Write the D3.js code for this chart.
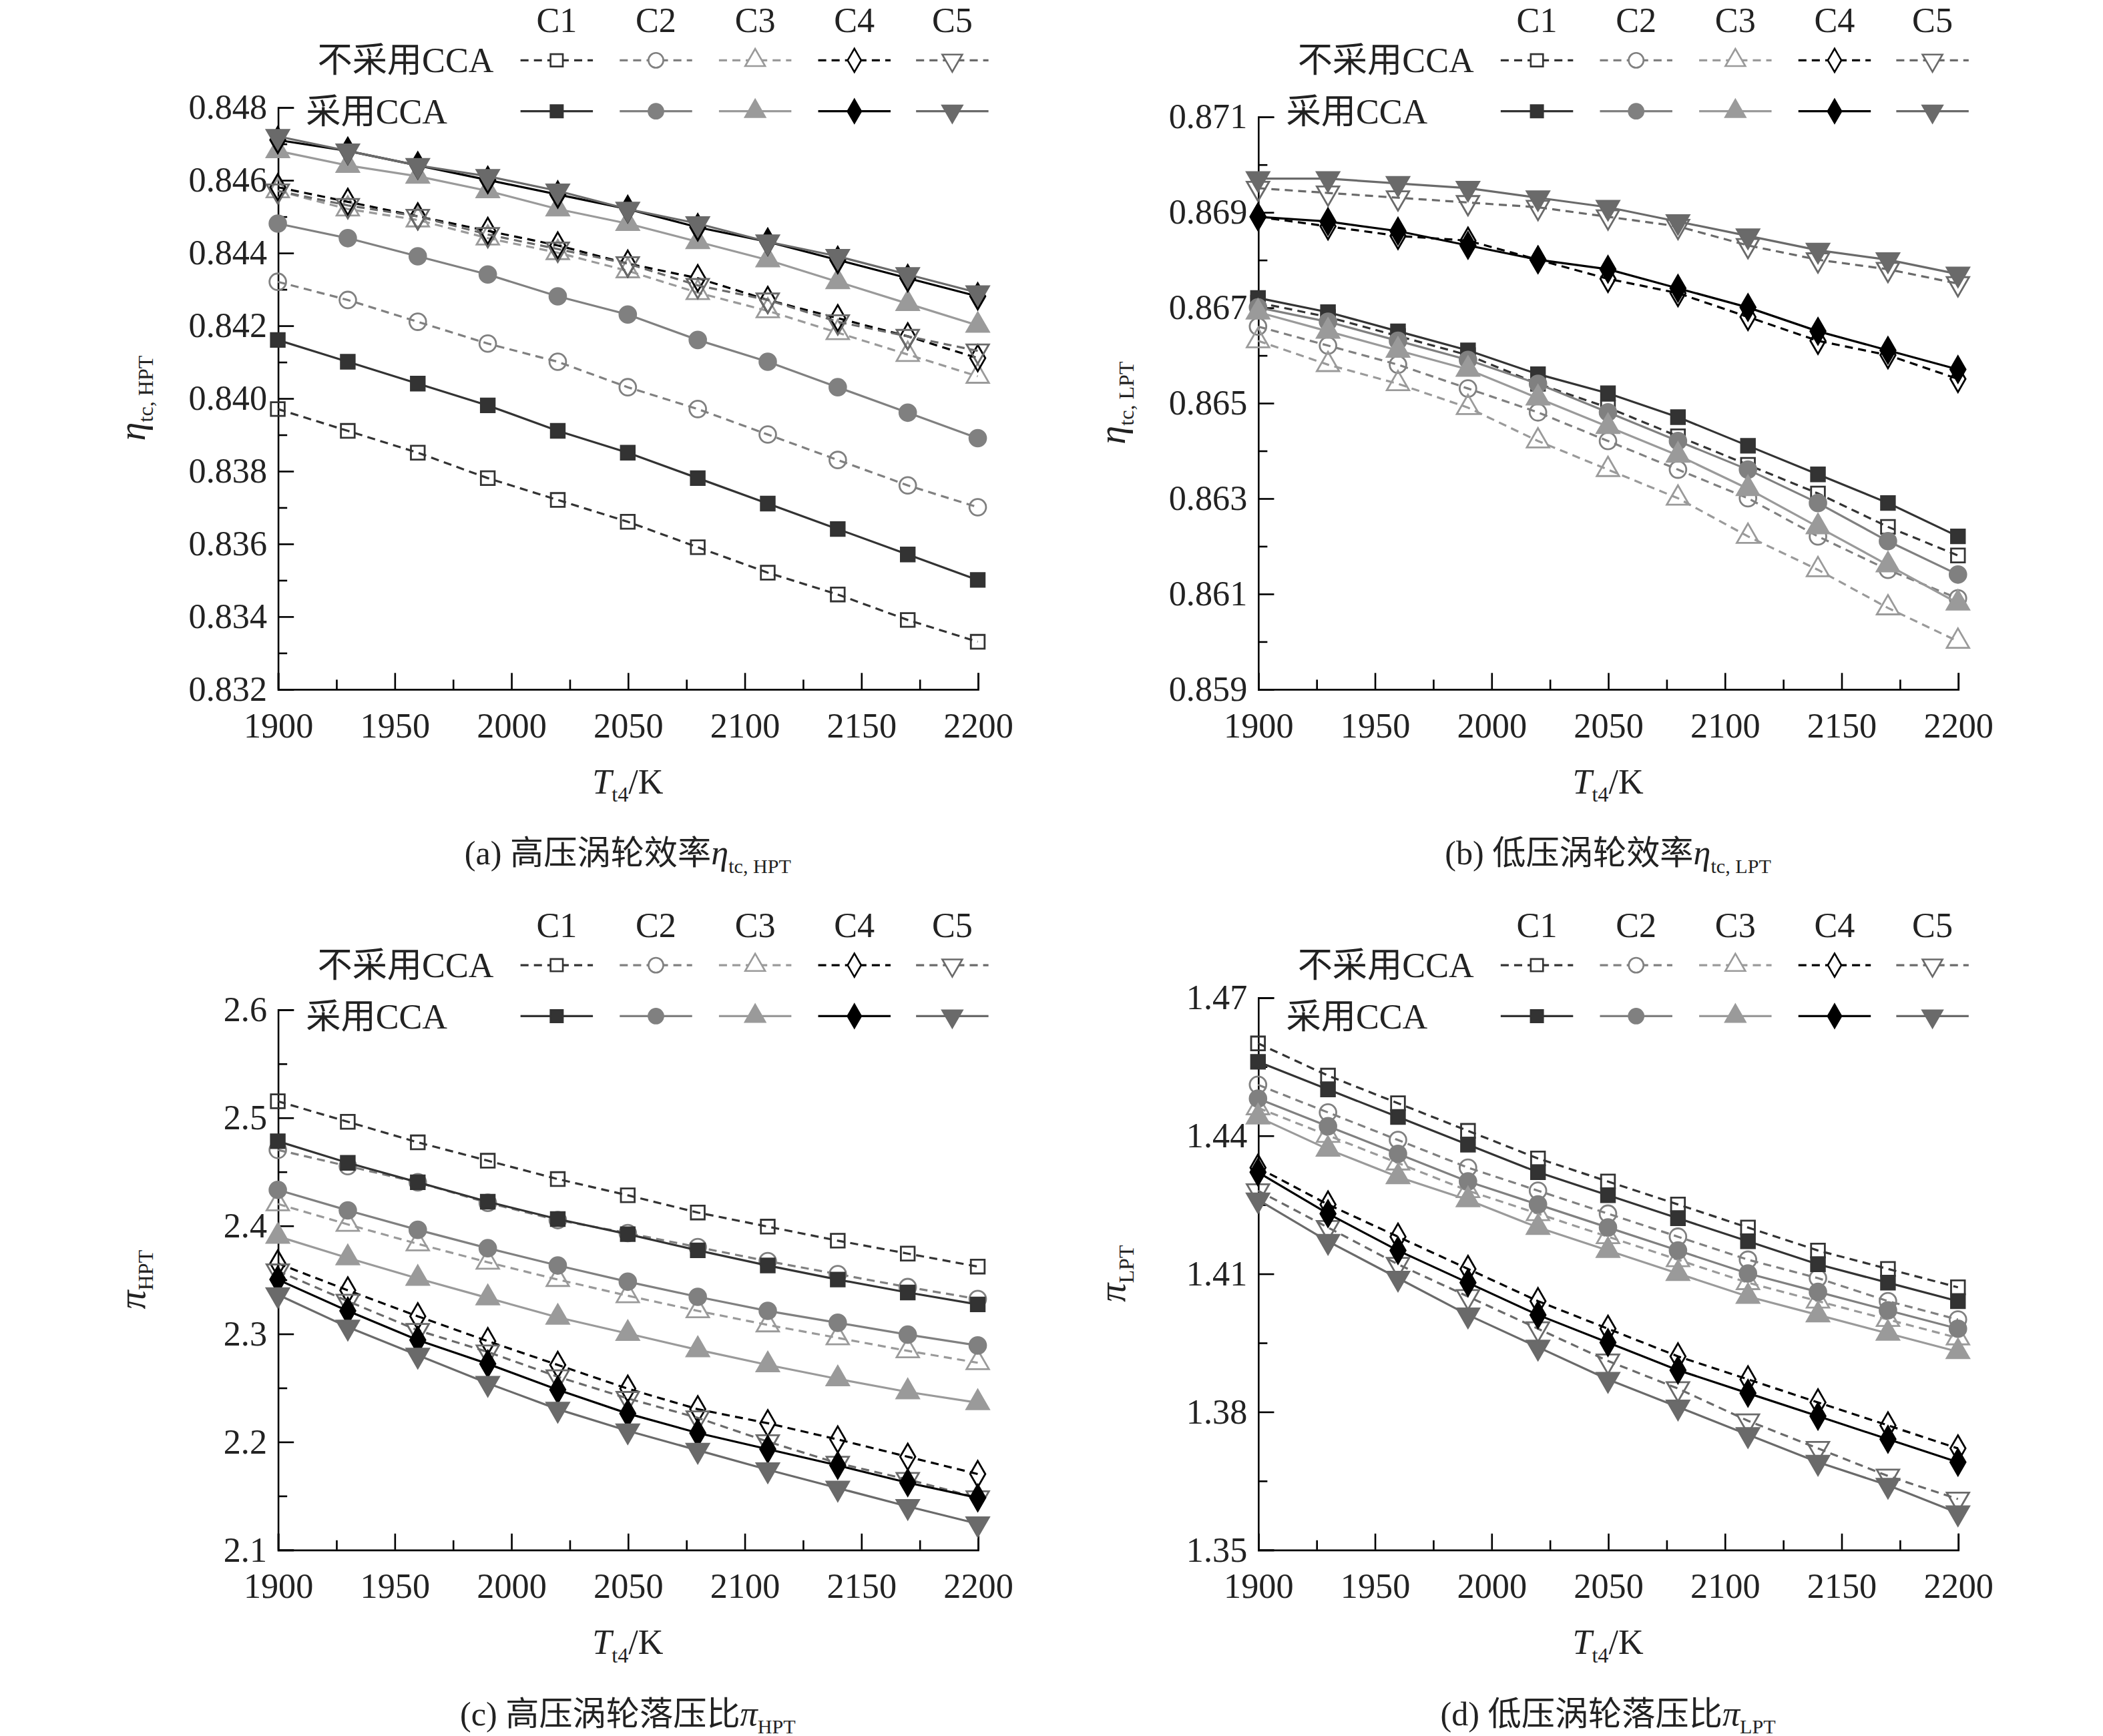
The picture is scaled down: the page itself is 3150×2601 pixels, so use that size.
<!DOCTYPE html>
<html><head><meta charset="utf-8">
<script src="https://cdn.jsdelivr.net/npm/d3@7"></script>
<style>body{margin:0;background:#fff}</style>
</head><body>
<svg id="chart" width="3150" height="2601" viewBox="0 0 1568 1295"></svg>
<script>
const temps = [1900, 1930, 1960, 1990, 2020, 2050, 2080, 2110, 2140, 2170, 2200];
const cases = ["C1", "C2", "C3", "C4", "C5"];
const caseColors = ["#333", "#808080", "#9a9a9a", "#000", "#6a6a6a"];
const caseShapes = [d3.symbolSquare, d3.symbolCircle, d3.symbolTriangle, d3.symbolDiamond, "down"];

// panel (a) eta_tc,HPT
const etaHptNo = [
  [0.8397,0.8391,0.8385,0.8378,0.8372,0.8366,0.8359,0.8352,0.8346,0.8339,0.8333],
  [0.8432,0.8427,0.8421,0.8415,0.8410,0.8403,0.8397,0.8390,0.8383,0.8376,0.8370],
  [0.8457,0.8452,0.8449,0.8444,0.8440,0.8435,0.8429,0.8424,0.8418,0.8412,0.8406],
  [0.8458,0.8454,0.8450,0.8446,0.8442,0.8437,0.8433,0.8427,0.8422,0.8417,0.8411],
  [0.8457,0.8453,0.8450,0.8445,0.8441,0.8437,0.8431,0.8427,0.8421,0.8417,0.8413]];
const etaHptCca = [
  [0.8416,0.8410,0.8404,0.8398,0.8391,0.8385,0.8378,0.8371,0.8364,0.8357,0.8350],
  [0.8448,0.8444,0.8439,0.8434,0.8428,0.8423,0.8416,0.8410,0.8403,0.8396,0.8389],
  [0.8468,0.8464,0.8461,0.8457,0.8452,0.8448,0.8443,0.8438,0.8432,0.8426,0.8420],
  [0.8471,0.8468,0.8464,0.8460,0.8456,0.8452,0.8447,0.8443,0.8438,0.8433,0.8428],
  [0.8472,0.8468,0.8464,0.8461,0.8457,0.8452,0.8448,0.8443,0.8439,0.8434,0.8429]];
// panel (b) eta_tc,LPT
const etaLptNo = [
  [0.8671,0.8668,0.8664,0.8660,0.8654,0.8649,0.8643,0.8637,0.8631,0.8624,0.8618],
  [0.8666,0.8662,0.8658,0.8653,0.8648,0.8642,0.8636,0.8630,0.8622,0.8615,0.8609],
  [0.8663,0.8658,0.8654,0.8649,0.8642,0.8636,0.8630,0.8622,0.8615,0.8607,0.8600],
  [0.8689,0.8687,0.8685,0.8684,0.8680,0.8676,0.8673,0.8668,0.8663,0.8660,0.8655],
  [0.8695,0.8694,0.8693,0.8692,0.8691,0.8689,0.8687,0.8683,0.8680,0.8678,0.8675]];
const etaLptCca = [
  [0.8672,0.8669,0.8665,0.8661,0.8656,0.8652,0.8647,0.8641,0.8635,0.8629,0.8622],
  [0.8670,0.8667,0.8663,0.8659,0.8654,0.8648,0.8642,0.8636,0.8629,0.8621,0.8614],
  [0.8669,0.8665,0.8661,0.8657,0.8651,0.8645,0.8639,0.8632,0.8624,0.8616,0.8608],
  [0.8689,0.8688,0.8686,0.8683,0.8680,0.8678,0.8674,0.8670,0.8665,0.8661,0.8657],
  [0.8697,0.8697,0.8696,0.8695,0.8693,0.8691,0.8688,0.8685,0.8682,0.8680,0.8677]];
// panel (c) pi_HPT
const piHptNo = [
  [2.515,2.496,2.477,2.460,2.443,2.428,2.412,2.399,2.386,2.374,2.362],
  [2.470,2.455,2.440,2.421,2.405,2.393,2.380,2.367,2.355,2.343,2.332],
  [2.420,2.401,2.383,2.366,2.350,2.335,2.321,2.308,2.296,2.284,2.273],
  [2.365,2.340,2.316,2.293,2.271,2.249,2.230,2.217,2.202,2.186,2.170],
  [2.358,2.330,2.303,2.283,2.260,2.240,2.222,2.200,2.180,2.165,2.148]];
const piHptCca = [
  [2.478,2.458,2.440,2.422,2.406,2.392,2.377,2.363,2.350,2.338,2.327],
  [2.433,2.414,2.396,2.379,2.363,2.348,2.334,2.321,2.310,2.299,2.289],
  [2.390,2.370,2.351,2.333,2.315,2.300,2.285,2.271,2.258,2.246,2.236],
  [2.350,2.321,2.294,2.272,2.248,2.226,2.208,2.193,2.178,2.162,2.148],
  [2.336,2.306,2.280,2.254,2.230,2.210,2.192,2.174,2.157,2.140,2.124]];
// panel (d) pi_LPT
const piLptNo = [
  [1.460,1.453,1.447,1.441,1.435,1.430,1.425,1.420,1.415,1.411,1.407],
  [1.451,1.445,1.439,1.433,1.428,1.423,1.418,1.413,1.409,1.404,1.400],
  [1.446,1.440,1.434,1.428,1.423,1.418,1.413,1.408,1.404,1.400,1.396],
  [1.433,1.425,1.418,1.411,1.404,1.398,1.392,1.387,1.382,1.377,1.372],
  [1.428,1.420,1.412,1.405,1.398,1.391,1.385,1.378,1.372,1.366,1.361]];
const piLptCca = [
  [1.456,1.450,1.444,1.438,1.432,1.427,1.422,1.417,1.412,1.408,1.404],
  [1.448,1.442,1.436,1.430,1.425,1.420,1.415,1.410,1.406,1.402,1.398],
  [1.444,1.437,1.431,1.426,1.420,1.415,1.410,1.405,1.401,1.397,1.393],
  [1.432,1.423,1.415,1.408,1.401,1.395,1.389,1.384,1.379,1.374,1.369],
  [1.426,1.417,1.409,1.401,1.394,1.387,1.381,1.375,1.369,1.364,1.358]];

const panels = [
  {ox: 0, oy: 0, top: 80, bottom: 514, dom: [0.832, 0.848], step: 0.002, fmt: ".3f", no: etaHptNo, cca: etaHptCca,
   sym: "η", sub: "tc, HPT", cap: "(a) 高压涡轮效率", capSym: "η", capSub: "tc, HPT"},
  {ox: 731, oy: 0, top: 87, bottom: 514, dom: [0.859, 0.871], step: 0.002, fmt: ".3f", no: etaLptNo, cca: etaLptCca,
   sym: "η", sub: "tc, LPT", cap: "(b) 低压涡轮效率", capSym: "η", capSub: "tc, LPT"},
  {ox: 0, oy: 675, top: 753 - 675, bottom: 1156 - 675, dom: [2.1, 2.6], step: 0.1, fmt: ".1f", no: piHptNo, cca: piHptCca,
   sym: "π", sub: "HPT", cap: "(c) 高压涡轮落压比", capSym: "π", capSub: "HPT"},
  {ox: 731, oy: 675, top: 744 - 675, bottom: 1156 - 675, dom: [1.35, 1.47], step: 0.03, fmt: ".2f", no: piLptNo, cca: piLptCca,
   sym: "π", sub: "LPT", cap: "(d) 低压涡轮落压比", capSym: "π", capSub: "LPT"}
];

const svg = d3.select("#chart");
const font = "'Times New Roman', 'Liberation Serif', 'DejaVu Serif', 'Noto Sans CJK SC', serif";

function symPath(shape, size) {
  if (shape === "down") return d3.symbol(d3.symbolTriangle, size)();
  return d3.symbol(shape, size)();
}
function symSize(shape) {
  if (shape === d3.symbolSquare) return 105;
  if (shape === d3.symbolCircle) return 120;
  if (shape === d3.symbolDiamond) return 110;
  return 120;
}

panels.forEach(p => {
  const g = svg.append("g").attr("transform", `translate(${p.ox},${p.oy})`)
    .style("font-family", font);
  const x = d3.scaleLinear().domain([1900, 2200]).range([207, 729]);
  const y = d3.scaleLinear().domain(p.dom).range([p.bottom, p.top]);
  const n = Math.round((p.dom[1] - p.dom[0]) / p.step);
  const yMajor = d3.range(n + 1).map(i => p.dom[0] + i * p.step);
  const yMinor = d3.range(n).map(i => p.dom[0] + (i + 0.5) * p.step);
  const xMajor = d3.range(1900, 2201, 50);
  const xMinor = d3.range(1925, 2200, 50);
  const tdy = p.bottom + 78;   // x-axis title baseline
  const cdy = p.bottom + 131;  // caption baseline

  // axes
  const ax = g.append("g").attr("transform", `translate(0,${p.bottom})`)
    .call(d3.axisBottom(x).tickValues(xMajor).tickSize(-12).tickFormat(d3.format("d")));
  ax.selectAll("line,path").attr("stroke", "#000").attr("stroke-width", 1.3);
  ax.selectAll("text").attr("dy", 0).attr("y", 36).style("font-size", "26px").style("font-family", font).attr("fill", "#222");
  g.append("g").attr("transform", `translate(0,${p.bottom})`)
    .call(d3.axisBottom(x).tickValues(xMinor).tickSize(-7).tickFormat(""))
    .call(s => s.select("path").remove())
    .selectAll("line").attr("stroke", "#000").attr("stroke-width", 1.3);
  const ay = g.append("g").attr("transform", "translate(207,0)")
    .call(d3.axisLeft(y).tickValues(yMajor).tickSize(-12).tickFormat(d3.format(p.fmt)));
  ay.selectAll("line,path").attr("stroke", "#000").attr("stroke-width", 1.3);
  ay.selectAll("text").attr("x", -8).style("font-size", "26px").style("font-family", font).attr("fill", "#222");
  g.append("g").attr("transform", "translate(207,0)")
    .call(d3.axisLeft(y).tickValues(yMinor).tickSize(-7).tickFormat(""))
    .call(s => s.select("path").remove())
    .selectAll("line").attr("stroke", "#000").attr("stroke-width", 1.3);

  // series
  const line = d3.line().x((d, i) => x(temps[i])).y(d => y(d));
  [["no", true], ["cca", false]].forEach(([key, open]) => {
    p[key].forEach((vals, ci) => {
      const col = caseColors[ci];
      g.append("path").attr("d", line(vals)).attr("fill", "none").attr("stroke", col)
        .attr("stroke-width", 1.6).attr("stroke-dasharray", open ? "6,4" : null);
      const shape = caseShapes[ci];
      g.selectAll(null).data(vals).enter().append("path")
        .attr("d", symPath(shape, symSize(shape)))
        .attr("transform", (d, i) => `translate(${x(temps[i])},${y(d)})${shape === "down" ? " rotate(180)" : ""}`)
        .attr("fill", open ? "#fff" : col).attr("fill-opacity", open ? 0 : 1)
        .attr("stroke", col).attr("stroke-width", 1.4);
    });
  });

  // legend
  const lx = [415, 489, 563, 637, 710];
  cases.forEach((c, ci) => {
    g.append("text").attr("x", lx[ci]).attr("y", 24).attr("text-anchor", "middle")
      .style("font-size", "26px").attr("fill", "#222").text(c);
    [[45, true], [83, false]].forEach(([ly, open]) => {
      const col = caseColors[ci];
      g.append("line").attr("x1", lx[ci] - 27).attr("x2", lx[ci] + 27).attr("y1", ly).attr("y2", ly)
        .attr("stroke", col).attr("stroke-width", 1.6).attr("stroke-dasharray", open ? "6,4" : null);
      const shape = caseShapes[ci];
      g.append("path").attr("d", symPath(shape, symSize(shape) * 0.8))
        .attr("transform", `translate(${lx[ci]},${ly})${shape === "down" ? " rotate(180)" : ""}`)
        .attr("fill", open ? "#fff" : col).attr("stroke", col).attr("stroke-width", 1.3);
    });
  });
  g.append("text").attr("x", 368).attr("y", 54).attr("text-anchor", "end")
    .style("font-size", "26px").attr("fill", "#222").text("不采用CCA");
  g.append("text").attr("x", 228).attr("y", 92)
    .style("font-size", "26px").attr("fill", "#222").text("采用CCA");

  // axis titles
  const yt = g.append("text").attr("transform", `translate(108,${(p.top + p.bottom) / 2}) rotate(-90)`)
    .attr("text-anchor", "middle").attr("fill", "#222");
  yt.append("tspan").style("font-size", "28px").style("font-style", "italic").text(p.sym);
  yt.append("tspan").style("font-size", "16px").attr("dy", 6).text(p.sub);
  const xt = g.append("text").attr("x", 468).attr("y", tdy).attr("text-anchor", "middle").attr("fill", "#222");
  xt.append("tspan").style("font-size", "26px").style("font-style", "italic").text("T");
  xt.append("tspan").style("font-size", "16px").attr("dy", 6).text("t4");
  xt.append("tspan").style("font-size", "26px").attr("dy", -6).text("/K");
  const ct = g.append("text").attr("x", 468).attr("y", cdy).attr("text-anchor", "middle").attr("fill", "#222");
  ct.append("tspan").style("font-size", "25px").text(p.cap);
  ct.append("tspan").style("font-size", "26px").style("font-style", "italic").text(p.capSym);
  ct.append("tspan").style("font-size", "15px").attr("dy", 6).text(p.capSub);
});
</script>
</body></html>
